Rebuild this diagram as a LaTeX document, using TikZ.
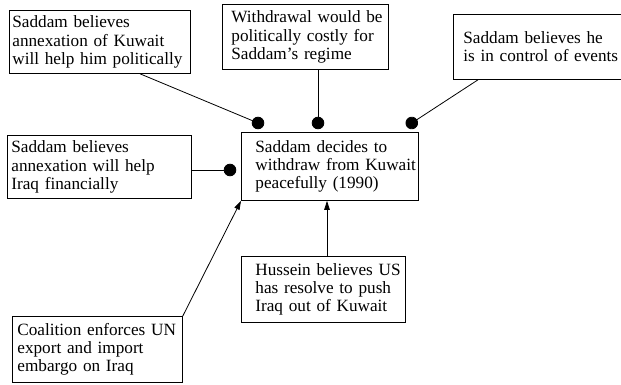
\documentclass[tikz,border=0pt]{standalone}
\usepackage{fontspec}
\setmainfont{Liberation Serif}
\usepackage{tikz}
\usetikzlibrary{arrows.meta,calc,positioning}

\begin{document}
\begin{tikzpicture}[x=1pt, y=-1pt, line width=0.8pt,
		every node/.style = {shape=rectangle, draw, align=left, anchor=north west,
			inner xsep=0pt, inner ysep=0pt, font=\fontsize{17.2}{18.2}\selectfont}]
			\tikzset{
				box/.style n args={3}{
					text width=#1, minimum height=#2,
					execute at begin node={\leftskip=#3\rightskip=-2em plus 1fil}
				}
			}

			\tikzset{ dotlink/.style = { -{Circle[length=12.5pt]}, shorten >=-6.25pt } }
			\tikzset{ arrowlink/.style = { -{Triangle[length=9pt,width=5.5pt]} } }

			\useasboundingbox (0,0) rectangle (621,385);

			% factors
			\node [box={181pt}{63pt}{3pt}] (pol) at (9,10) {Saddam believes\\annexation of Kuwait\\will help him politically};
			\node [box={166pt}{65pt}{9pt}] (cost) at (222,4) {Withdrawal would be\\politically costly for\\Saddam's regime};
			\node [box={180pt}{65pt}{10pt}] (ctrl) at (453,14) {Saddam believes he\\is in control of events};
			\node [box={184pt}{63pt}{4pt}] (fin) at (7,135) {Saddam believes\\annexation will help\\Iraq financially};
			\node [box={177pt}{68pt}{14pt}] (decide) at (241,132) {Saddam decides to\\withdraw from Kuwait\\peacefully (1990)};
			\node [box={164pt}{66pt}{14pt}] (resolve) at (241,256) {Hussein believes US\\has resolve to push\\Iraq out of Kuwait};
			\node [box={170pt}{66pt}{5pt}] (embargo) at (12,316) {Coalition enforces UN\\export and import\\embargo on Iraq};

			% dot ends
			\coordinate (d1) at ($(decide.north west)+(17pt,9pt)$);
			\coordinate (d2) at ($(decide.north west)+(77pt,9pt)$);
			\coordinate (d3) at ($(decide.north east)+(-7pt,9pt)$);
			\coordinate (d4) at ($(decide.north west)+(-11pt,-38pt)$);
			\coordinate (s1) at ($(decide.south west)+(86pt,0pt)$);

			\draw [dotlink] ($(pol.south west)+(131pt,0pt)$) -- (d1);
			\draw [dotlink] (cost.south -| d2) -- (d2);
			\draw [dotlink] ($(ctrl.south west)+(25pt,0pt)$) -- (d3);
			\draw [dotlink] (fin.east |- d4) -- (d4);
			\draw [arrowlink] (resolve.north -| s1) -- (s1);
			\draw [arrowlink] (embargo.north east) -- (decide.south west);
		\end{tikzpicture}
\end{document}
